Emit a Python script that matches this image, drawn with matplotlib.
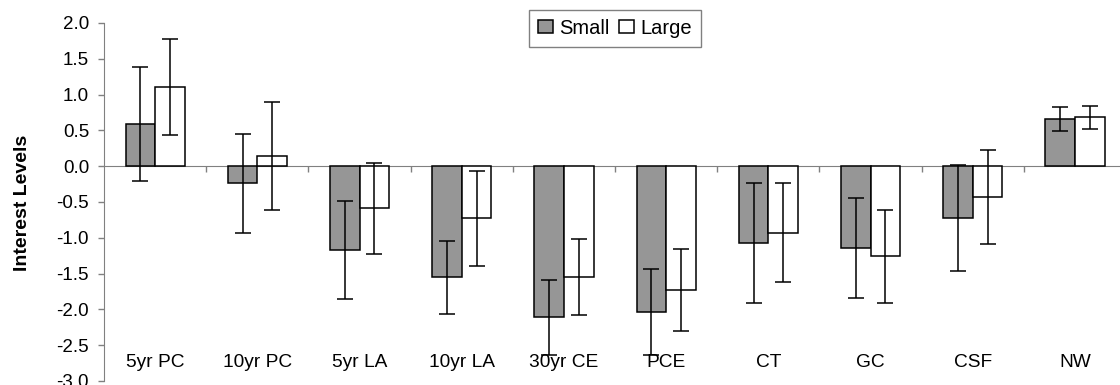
import numpy as np
import matplotlib
matplotlib.use("Agg")
import matplotlib.pyplot as plt

# ------------------------------------------------------------------
# Data
# ------------------------------------------------------------------
categories = ['5yr PC', '10yr PC', '5yr LA', '10yr LA', '30yr CE',
              'PCE', 'CT', 'GC', 'CSF', 'NW']
small      = [0.59, -0.24, -1.17, -1.55, -2.11, -2.04, -1.07, -1.14, -0.73, 0.66]
small_err  = [0.79, 0.69, 0.68, 0.51, 0.52, 0.60, 0.84, 0.70, 0.74, 0.165]
large      = [1.10, 0.14, -0.59, -0.73, -1.55, -1.73, -0.93, -1.26, -0.43, 0.68]
large_err  = [0.67, 0.75, 0.63, 0.66, 0.53, 0.57, 0.69, 0.645, 0.655, 0.165]
y_ticks    = [-3.0, -2.5, -2.0, -1.5, -1.0, -0.5, 0.0, 0.5, 1.0, 1.5, 2.0]

plt.rcParams['font.family'] = ['Liberation Sans', 'DejaVu Sans']
plt.rcParams['axes.unicode_minus'] = False

fig = plt.figure(figsize=(11.2, 3.85), dpi=100)
ax = fig.add_axes([0.0929, 0.0104, 0.9125, 0.9299])

x = np.arange(len(categories))
w = 0.29
axis_grey = '#808080'

ax.bar(x - w / 2, small, w, color='#969696', edgecolor='black',
       linewidth=1.1, label='Small', zorder=2)
ax.bar(x + w / 2, large, w, color='white', edgecolor='black',
       linewidth=1.1, label='Large', zorder=2)
ax.errorbar(x - w / 2, small, yerr=small_err, fmt='none', ecolor='black',
            elinewidth=1.1, capsize=6, capthick=1.1, zorder=3)
ax.errorbar(x + w / 2, large, yerr=large_err, fmt='none', ecolor='black',
            elinewidth=1.1, capsize=6, capthick=1.1, zorder=3)

ax.set_xlim(-0.5, len(categories) - 0.5)
ax.set_ylim(-3.0, 2.0)
ax.set_yticks(y_ticks)
ax.set_yticklabels([f'{v:.1f}' for v in y_ticks])

# category axis sits on zero, ticks between groups, labels at the bottom
ax.spines['top'].set_visible(False)
ax.spines['right'].set_visible(False)
ax.spines['bottom'].set_position(('data', 0))
ax.spines['bottom'].set_color(axis_grey)
ax.spines['left'].set_color(axis_grey)
ax.spines['bottom'].set_zorder(1)
ax.set_xticks(x[:-1] + 0.5)
ax.set_xticklabels([])
ax.tick_params(axis='x', direction='out', length=4.3, width=1, color=axis_grey)
ax.tick_params(axis='y', direction='out', length=4.3, width=1, color=axis_grey,
               labelsize=13.5, pad=6.5)

for xi, name in zip(x, categories):
    ax.text(xi, -2.74, name, ha='center', va='center', fontsize=13.8)

fig.text(0.0205, 0.474, 'Interest Levels', rotation=90, ha='center',
         va='center', fontsize=14, fontweight='bold')

leg = ax.legend(loc='upper center', bbox_to_anchor=(0.549, 0.975),
                bbox_transform=fig.transFigure, ncol=2, fontsize=14.5,
                frameon=True, fancybox=False, framealpha=1,
                handlelength=0.75, handleheight=0.6, handletextpad=0.3,
                columnspacing=0.5, borderpad=0.45, borderaxespad=0)
leg.get_frame().set_edgecolor(axis_grey)
leg.get_frame().set_linewidth(1)

plt.savefig('out.png', dpi=100)
